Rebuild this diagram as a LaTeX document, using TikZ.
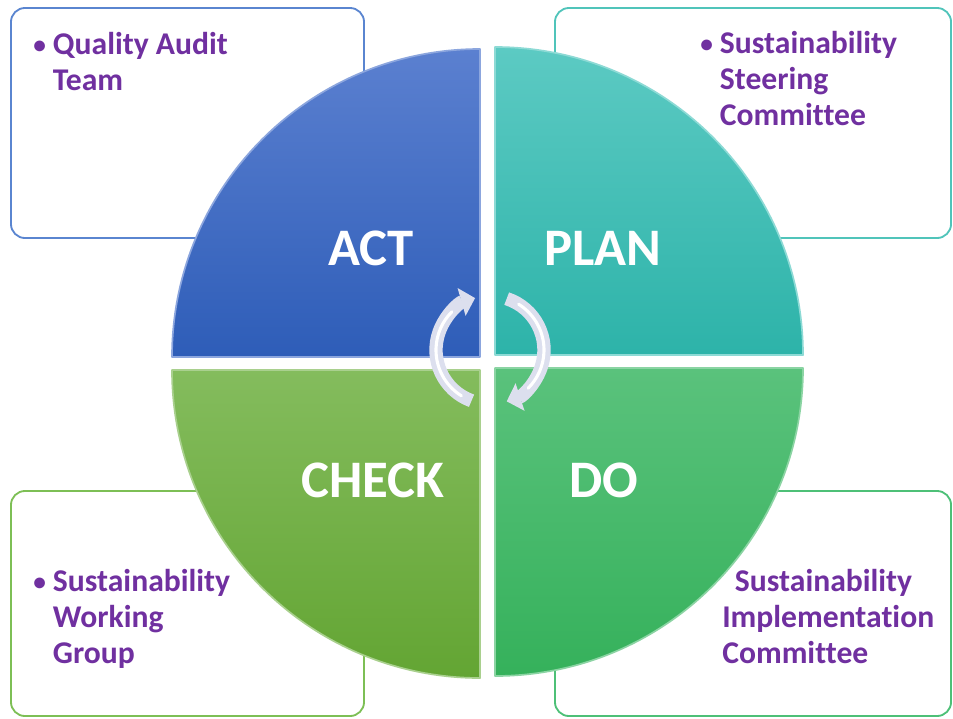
\documentclass[tikz,border=0pt]{standalone}
\usepackage{fontspec}
\setmainfont{Carlito}[Ligatures=NoCommon]
\usetikzlibrary{arrows.meta}
\definecolor{actt}{HTML}{5B80D0}
\definecolor{actb}{HTML}{2E5DB8}
\definecolor{plant}{HTML}{5CCAC3}
\definecolor{planb}{HTML}{2DB3A9}
\definecolor{chkt}{HTML}{84BC5D}
\definecolor{chkb}{HTML}{63A533}
\definecolor{dotop}{HTML}{5AC27C}
\definecolor{dob}{HTML}{35B15B}
\definecolor{actline}{HTML}{5A85D0}
\definecolor{planline}{HTML}{50C4BA}
\definecolor{chkline}{HTML}{7DBF55}
\definecolor{doline}{HTML}{4DC077}
\definecolor{purp}{HTML}{7030A0}
\definecolor{arrc}{HTML}{DCDFEE}
\tikzset{
  box/.style={rounded corners=10pt, line width=1.3pt, fill=white, inner sep=0pt},
  quad/.style={line width=1.2pt, line join=round},
  lab/.style={text=white, font=\bfseries\fontsize{37.5}{40}\selectfont, anchor=base},
  item/.style={text=purp, font=\bfseries\fontsize{22.5}{25.5}\selectfont, align=left, anchor=base west, inner sep=0pt},
  cyc/.style={draw=arrc, line width=9.5pt, -{Triangle[length=10pt,width=20pt]}},
  shine/.style={draw=white, line width=2.2pt, line cap=round},
}
\newcommand{\bul}{\makebox[14pt][l]{\raisebox{0.5pt}{\scalebox{0.8}{\textbullet}}}}

\begin{document}
\begin{tikzpicture}[x=0.025cm,y=0.025cm]
  \useasboundingbox (0,0) rectangle (953,-718);
  % boxes behind the wheel
  \node[box, draw=actline, minimum width=8.825cm, minimum height=5.75cm] (actbox) at (187.5,-123) {};
  \node[box, draw=planline, minimum width=9.9cm, minimum height=5.75cm] (planbox) at (753,-123) {};
  \node[box, draw=chkline, minimum width=8.825cm, minimum height=5.625cm] (chkbox) at (187.5,-603.5) {};
  \node[box, draw=doline, minimum width=9.9cm, minimum height=5.625cm] (dobox) at (753,-603.5) {};
  % the four quarters
  \def\r{308}
  \draw[quad, draw=actt!70!white, top color=actt, bottom color=actb]
    (480,-357) -- ++(-\r,0) arc[start angle=180, end angle=90, radius=\r] -- cycle;
  \draw[quad, draw=plant!70!white, top color=plant, bottom color=planb]
    (495,-355) -- ++(0,\r) arc[start angle=90, end angle=0, radius=\r] -- cycle;
  \draw[quad, draw=chkt!70!white, top color=chkt, bottom color=chkb]
    (480,-370) -- ++(-\r,0) arc[start angle=180, end angle=270, radius=\r] -- cycle;
  \draw[quad, draw=dotop!70!white, top color=dotop, bottom color=dob]
    (495,-368) -- ++(\r,0) arc[start angle=0, end angle=-90, radius=\r] -- cycle;
  \node[lab] (act) at (371,-265) {ACT};
  \node[lab] (plan) at (603,-265) {PLAN};
  \node[lab] (check) at (373,-497) {CHECK};
  \node[lab] (do) at (604,-497) {DO};
  % cycle arrows
  \coordinate (cyc) at (490,-350);
  \draw[cyc] ([shift={(250:54)}]cyc) arc[start angle=250, end angle=106, radius=54];
  \draw[cyc] ([shift={(72:54)}]cyc) arc[start angle=72, end angle=-72, radius=54];
  \draw[shine] ([shift={(238:54)}]cyc) arc[start angle=238, end angle=135, radius=54];
  \draw[shine] ([shift={(58:54)}]cyc) arc[start angle=58, end angle=-45, radius=54];
  % team names
  \node[item] (actt) at (33,-90) {\bul Quality Audit\\\hspace*{14pt}Team};
  \node[item] (plant) at (700,-125) {\bul Sustainability\\\hspace*{14pt}Steering\\\hspace*{14pt}Committee};
  \node[item] (chkt) at (33,-663) {\bul Sustainability\\\hspace*{14pt}Working\\\hspace*{14pt}Group};
  \node[item] (dot) at (722,-663) {\hspace*{9pt}Sustainability\\Implementation\\Committee};
\end{tikzpicture}
\end{document}
